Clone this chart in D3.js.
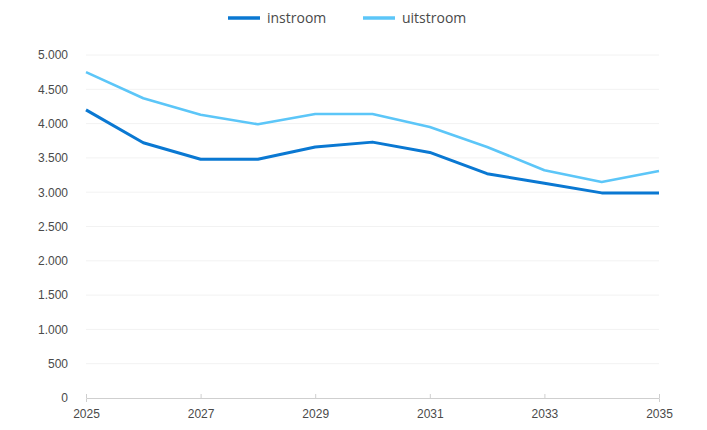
<!DOCTYPE html>
<html>
<head>
<meta charset="utf-8">
<script src="https://cdn.jsdelivr.net/npm/d3@7"></script>
<style>
  html, body { margin: 0; padding: 0; background: #ffffff; }
  svg { display: block; font-family: "Open Sans", "Noto Sans", sans-serif; }
</style>
</head>
<body>
<svg id="chart" width="707" height="430"></svg>
<script>
// Jaren en reeksen
const years = [2025, 2026, 2027, 2028, 2029, 2030, 2031, 2032, 2033, 2034, 2035];
const instroom = [4200, 3720, 3480, 3480, 3660, 3730, 3580, 3270, 3130, 2990, 2990];
const uitstroom = [4750, 4370, 4130, 3990, 4140, 4140, 3950, 3660, 3320, 3150, 3310];
const yTicks = [0, 500, 1000, 1500, 2000, 2500, 3000, 3500, 4000, 4500, 5000];
const xTicks = [2025, 2027, 2029, 2031, 2033, 2035];
const seriesNames = ["instroom", "uitstroom"];
const seriesColors = ["#0a78d2", "#5cc6f8"];

const svg = d3.select("#chart");
const nl = d3.formatLocale({ decimal: ",", thousands: ".", grouping: [3], currency: ["€", ""] });
const fmt = nl.format(",d");

const x = d3.scaleLinear().domain([2025, 2035]).range([86, 659]);
const y = d3.scaleLinear().domain([0, 5000]).range([398, 55]);

// Lichte rasterlijnen
svg.append("g")
  .selectAll("line")
  .data(yTicks.filter(d => d > 0))
  .join("line")
  .attr("x1", x(2025)).attr("x2", x(2035))
  .attr("y1", d => y(d)).attr("y2", d => y(d))
  .attr("stroke", "#f2f2f2").attr("stroke-width", 1);

// Y-as
const yAxis = svg.append("g")
  .attr("transform", "translate(72,0)")
  .call(d3.axisLeft(y).tickValues(yTicks).tickFormat(fmt).tickSize(0).tickPadding(4));
yAxis.select(".domain").remove();
yAxis.selectAll("text").attr("fill", "#4a4a4a").attr("font-size", 12);

// X-as
const xAxis = svg.append("g")
  .attr("transform", `translate(0,${y(0)})`)
  .call(d3.axisBottom(x).tickValues(xTicks).tickFormat(d3.format("d")).tickSize(4).tickPadding(7));
xAxis.select(".domain").attr("stroke", "#cfcfcf");
xAxis.selectAll(".tick line").attr("stroke", "#cfcfcf").attr("transform", "translate(0,-4)");
xAxis.selectAll("text").attr("fill", "#4a4a4a").attr("font-size", 12);

// Lijnen
const line = d3.line().x((d, i) => x(years[i])).y(d => y(d));
[instroom, uitstroom].forEach((vals, k) => {
  svg.append("path")
    .datum(vals)
    .attr("fill", "none")
    .attr("stroke", seriesColors[k])
    .attr("stroke-width", k === 0 ? 3 : 2.6)
    .attr("stroke-linejoin", "round")
    .attr("d", line);
});

// Legenda
const legend = svg.append("g").attr("transform", "translate(228,18)");
const legendX = [0, 135];
seriesNames.forEach((name, k) => {
  const g = legend.append("g").attr("transform", `translate(${legendX[k]},0)`);
  g.append("line").attr("x1", 0).attr("x2", 32).attr("y1", 0).attr("y2", 0)
    .attr("stroke", seriesColors[k]).attr("stroke-width", 3.5);
  g.append("text").attr("x", 39).attr("y", 0).attr("dy", "0.35em")
    .attr("font-size", 14).attr("fill", "#4a4a4a").text(name);
});
</script>
</body>
</html>
